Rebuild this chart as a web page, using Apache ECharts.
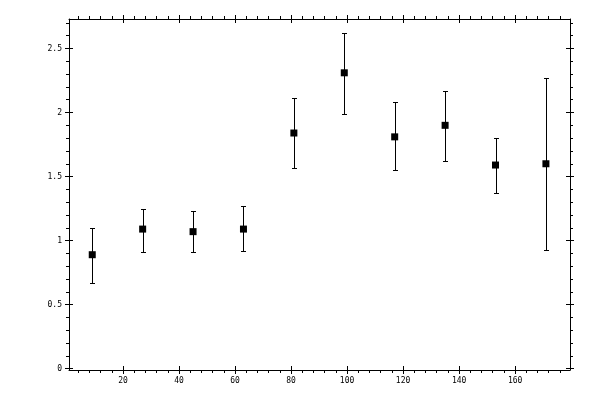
<!DOCTYPE html>
<html lang="en">
<head>
    <meta charset="UTF-8">
    <title>error bars</title>
    <script type="text/javascript" src="https://cdn.jsdelivr.net/npm/echarts/dist/echarts.min.js"></script>
    <style>
        html, body { margin: 0; padding: 0; background: #fff; }
    </style>
</head>
<body>
<div id="chart" style="width: 600px;height: 400px"></div>
<script type="text/javascript">
    // data
    var xVals   = [9, 27, 45, 63, 81, 99, 117, 135, 153, 171];
    var yVals   = [0.89, 1.09, 1.07, 1.09, 1.84, 2.31, 1.81, 1.9, 1.59, 1.6];
    var errLow  = [0.67, 0.91, 0.91, 0.92, 1.57, 1.99, 1.55, 1.62, 1.37, 0.93];
    var errHigh = [1.1, 1.25, 1.23, 1.27, 2.11, 2.62, 2.08, 2.17, 1.8, 2.27];

    var xTicks = [20, 40, 60, 80, 100, 120, 140, 160];
    var yTicks = [0, 0.5, 1, 1.5, 2, 2.5];

    var xRange = [0.7, 179.6];
    var yRange = [-0.01, 2.73];

    // minor ticks between the labelled ones
    function minorTicks(step, every, lo, hi) {
        var out = [];
        for (var i = 1; i * step < hi; i++) {
            if (i % every !== 0 && i * step > lo) out.push(+(i * step).toFixed(4));
        }
        return out;
    }
    var xMinor = minorTicks(4, 5, xRange[0], xRange[1]);
    var yMinor = minorTicks(0.1, 5, yRange[0], yRange[1]);

    var font = {color: '#000', fontFamily: 'DejaVu Sans Mono', fontSize: 8};

    // one axis helper: which grid, where, which ticks, inside or not
    function axis(range, grid, pos, ticks, len, inside, labels, line) {
        return {
            type: 'value', gridIndex: grid, position: pos,
            min: range[0], max: range[1],
            axisLine: {show: line, onZero: false, lineStyle: {color: '#000', width: 1}},
            axisTick: {show: true, customValues: ticks, length: len, inside: inside,
                       lineStyle: {color: '#000', width: 1}},
            axisLabel: labels ? Object.assign({show: true, customValues: ticks, margin: 7}, font)
                              : {show: false},
            splitLine: {show: false}
        };
    }

    var box = {left: 69, top: 19, right: 30, bottom: 30};
    var chart = echarts.init(document.getElementById('chart'));

    var errData = xVals.map(function (x, i) { return [x, errLow[i], errHigh[i]]; });
    var ptData = xVals.map(function (x, i) { return [x, yVals[i]]; });

    var option = {
        animation: false,
        backgroundColor: '#fff',
        grid: [
            Object.assign({}, box),
            Object.assign({}, box),
            Object.assign({}, box)
        ],
        xAxis: [
            axis(xRange, 0, 'bottom', xTicks, 4, false, true, true),
            axis(xRange, 0, 'top', xTicks, 4, false, false, true),
            axis(xRange, 1, 'bottom', xTicks, 4, true, false, false),
            axis(xRange, 1, 'top', xTicks, 4, true, false, false),
            axis(xRange, 2, 'bottom', xMinor, 3, false, false, false),
            axis(xRange, 2, 'top', xMinor, 3, false, false, false)
        ],
        yAxis: [
            axis(yRange, 0, 'left', yTicks, 4, false, true, true),
            axis(yRange, 0, 'right', yTicks, 4, false, false, true),
            axis(yRange, 1, 'left', yTicks, 4, true, false, false),
            axis(yRange, 1, 'right', yTicks, 4, true, false, false),
            axis(yRange, 2, 'left', yMinor, 3, false, false, false),
            axis(yRange, 2, 'right', yMinor, 3, false, false, false)
        ],
        series: [
            {
                type: 'custom',
                xAxisIndex: 0, yAxisIndex: 0,
                data: errData,
                renderItem: function (params, api) {
                    var lo = api.coord([api.value(0), api.value(1)]);
                    var hi = api.coord([api.value(0), api.value(2)]);
                    var x = Math.round(lo[0]) + 0.5;
                    var y1 = Math.round(lo[1]) + 0.5, y2 = Math.round(hi[1]) + 0.5;
                    var st = {stroke: '#000', lineWidth: 1};
                    return {
                        type: 'group',
                        children: [
                            {type: 'line', shape: {x1: x, y1: y1, x2: x, y2: y2}, style: st},
                            {type: 'line', shape: {x1: x - 2.5, y1: y1, x2: x + 2.5, y2: y1}, style: st},
                            {type: 'line', shape: {x1: x - 2.5, y1: y2, x2: x + 2.5, y2: y2}, style: st}
                        ]
                    };
                },
                z: 2
            },
            {
                type: 'scatter',
                xAxisIndex: 0, yAxisIndex: 0,
                data: ptData,
                symbol: 'rect',
                symbolSize: 7,
                itemStyle: {color: '#000', opacity: 1},
                emphasis: {disabled: true},
                z: 3
            }
        ]
    };
    option && chart.setOption(option);
</script>
</body>
</html>
